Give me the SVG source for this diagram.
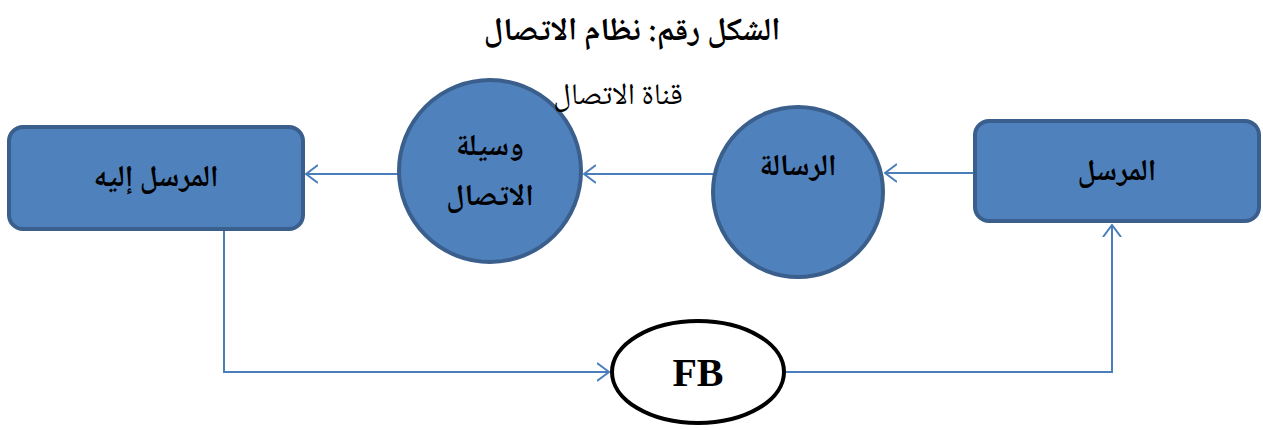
<svg xmlns="http://www.w3.org/2000/svg" width="1263" height="430" viewBox="0 0 1263 430">
<style>
.node{fill:#4f81bd;stroke:#3b5f8c;stroke-width:4}
.fb{fill:#ffffff;stroke:#000000;stroke-width:4}
.conn{fill:none;stroke:#4a7ebb;stroke-width:2}
.ar{font-family:"Noto Naskh Arabic","DejaVu Serif","DejaVu Sans",serif;fill:#000;text-anchor:middle;direction:rtl}
.b{font-weight:bold;font-size:30px}
</style>
<defs>
<marker id="arr" viewBox="0 0 13 20" refX="12" refY="10" markerWidth="13" markerHeight="20" markerUnits="userSpaceOnUse" orient="auto">
<path d="M0,1 L12,10 L0,19" fill="none" stroke="#4a7ebb" stroke-width="2"/>
</marker>
</defs>
<rect width="1263" height="430" fill="#ffffff"/>
<text class="ar" x="632" y="40" style="font-weight:bold;font-size:32px">الشكل رقم: نظام الاتصال</text>
<g id="connectors">
<line class="conn" x1="973" y1="173" x2="885" y2="173" marker-end="url(#arr)"/>
<line class="conn" x1="713" y1="174" x2="584" y2="174" marker-end="url(#arr)"/>
<line class="conn" x1="398" y1="174" x2="306" y2="174" marker-end="url(#arr)"/>
<polyline class="conn" points="224,230 224,372 609,372" marker-end="url(#arr)"/>
<polyline class="conn" points="785,372 1112,372 1112,225" marker-end="url(#arr)"/>
</g>
<g id="sender">
<rect class="node" x="975" y="121" width="284" height="100" rx="14"/>
<text class="ar b" x="1117" y="180">المرسل</text>
</g>
<g id="message">
<circle class="node" cx="798" cy="192" r="85"/>
<text class="ar b" x="798" y="175">الرسالة</text>
</g>
<g id="channel">
<circle class="node" cx="490" cy="171" r="91"/>
<text class="ar b" x="490" y="155">وسيلة</text>
<text class="ar b" x="490" y="205">الاتصال</text>
<text class="ar" x="618" y="104" style="font-size:30px">قناة الاتصال</text>
</g>
<g id="receiver">
<rect class="node" x="9" y="127" width="294" height="102" rx="14"/>
<text class="ar b" x="156" y="186">المرسل إليه</text>
</g>
<g id="feedback">
<ellipse class="fb" cx="698" cy="372" rx="86" ry="51"/>
<text x="698" y="386" text-anchor="middle" style="font-family:'Liberation Serif',serif;font-weight:bold;font-size:40px">FB</text>
</g>
</svg>
